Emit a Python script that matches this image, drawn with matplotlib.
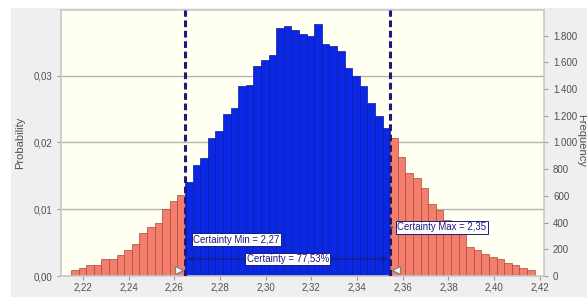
#!/usr/bin/env python3
"""
Forecast histogram with certainty range (Crystal Ball style).
Probability on the left axis, frequency (50.000 trials) on the right.
"""

import matplotlib
matplotlib.use("Agg")
import matplotlib.pyplot as plt
import matplotlib.transforms as mtransforms
from matplotlib.patches import Rectangle
from matplotlib.ticker import FuncFormatter, MultipleLocator

# =============================================================================
# DATA
# =============================================================================

BIN_START = 2.2148
BIN_WIDTH = 0.003326
TRIALS = 50000

# probability per bin, left tail (below certainty min)
LEFT_TAIL = [0.0009, 0.00125, 0.0016, 0.0017, 0.0026, 0.0025, 0.0031, 0.0039,
             0.0048, 0.0064, 0.0073, 0.0080, 0.0100, 0.0112, 0.0122]
# probability per bin inside the certainty range
CERTAIN = [0.0141, 0.0166, 0.0176, 0.0207, 0.0217, 0.0242, 0.0252, 0.0284,
           0.0286, 0.0314, 0.0323, 0.0331, 0.0372, 0.0374, 0.0368, 0.0363,
           0.0359, 0.0377, 0.0348, 0.0344, 0.0337, 0.0311, 0.0300, 0.0284,
           0.0259, 0.0240, 0.0221]
# probability per bin, right tail (above certainty max)
RIGHT_TAIL = [0.0206, 0.0178, 0.0154, 0.0147, 0.0132, 0.0108, 0.0099, 0.0084,
              0.0069, 0.0064, 0.0043, 0.0039, 0.0033, 0.0028, 0.0025, 0.0019,
              0.00165, 0.00115, 0.0009]

CERT_MIN_LABEL = "Certainty Min = 2,27"
CERT_MAX_LABEL = "Certainty Max = 2,35"
CERT_LABEL = "Certainty = 77,53%"

X_TICKS = [2.22, 2.24, 2.26, 2.28, 2.30, 2.32, 2.34, 2.36, 2.38, 2.40, 2.42]

# =============================================================================
# STYLE
# =============================================================================

RED = "#F47E6C"
RED_EDGE = "#A9483C"
BLUE = "#0A28E4"
BLUE_EDGE = "#0A1A9C"
NAVY = "#1B1B7E"
PLOT_BG = "#FFFFF2"
PANEL_BG = "#EFEFEF"
GRID = "#B4B4AA"
TEXT = "#505050"

plt.rcParams["font.family"] = ["Liberation Sans", "DejaVu Sans"]
plt.rcParams["font.size"] = 7


def main():
    n_left = len(LEFT_TAIL)
    n_cert = len(CERTAIN)
    n_right = len(RIGHT_TAIL)
    edges = [BIN_START + i * BIN_WIDTH for i in range(n_left + n_cert + n_right + 1)]
    cert_min = edges[n_left]
    cert_max = edges[n_left + n_cert]

    fig = plt.figure(figsize=(5.87, 2.97), dpi=100, facecolor="white")
    # grey panel behind the chart
    fig.patches.append(Rectangle((11 / 587, 0), 1, 1 - 8 / 297,
                                 transform=fig.transFigure, facecolor=PANEL_BG,
                                 edgecolor="none", zorder=-10))

    ax = fig.add_axes([61 / 587, 1 - 276 / 297, (544 - 61) / 587, (276 - 10) / 297])
    ax.set_facecolor(PLOT_BG)

    ax.bar(edges[:n_left], LEFT_TAIL, width=BIN_WIDTH, align="edge",
           color=RED, edgecolor=RED_EDGE, linewidth=0.5, zorder=2)
    ax.bar(edges[n_left:n_left + n_cert], CERTAIN, width=BIN_WIDTH, align="edge",
           color=BLUE, edgecolor=BLUE_EDGE, linewidth=0.5, zorder=2)
    ax.bar(edges[n_left + n_cert:-1], RIGHT_TAIL, width=BIN_WIDTH, align="edge",
           color=RED, edgecolor=RED_EDGE, linewidth=0.5, zorder=2)

    ax.set_xlim(2.2104, 2.4218)
    ymax = 0.03982
    ax.set_ylim(0, ymax)

    ax.yaxis.set_major_locator(MultipleLocator(0.01))
    ax.yaxis.set_major_formatter(FuncFormatter(lambda v, p: f"{v:.2f}".replace(".", ",")))
    ax.set_xticks(X_TICKS)
    ax.set_xticklabels([f"{v:.2f}".replace(".", ",") for v in X_TICKS])
    ax.grid(axis="y", color=GRID, linewidth=1.0, zorder=1)
    ax.tick_params(axis="both", colors="#999999", labelcolor=TEXT, length=3,
                   width=0.8, labelsize=7)
    ax.tick_params(axis="x", pad=2)
    for sp in ax.spines.values():
        sp.set_color("#C8C8C8")
        sp.set_linewidth(1.2)
    ax.set_ylabel("Probability", color=TEXT, fontsize=8, labelpad=6)

    # frequency axis
    ax2 = ax.twinx()
    ax2.set_ylim(0, ymax * TRIALS)
    ax2.yaxis.set_major_locator(MultipleLocator(200))
    ax2.yaxis.set_major_formatter(FuncFormatter(lambda v, p: f"{int(v):,}".replace(",", ".")))
    ax2.tick_params(axis="y", colors="#999999", labelcolor=TEXT, length=3,
                    width=0.8, labelsize=7)
    for sp in ax2.spines.values():
        sp.set_visible(False)
    fig.text(576 / 587, 1 - 140 / 297, "Frequency", rotation=270, ha="left",
             va="center", color=TEXT, fontsize=8)

    # certainty lines
    for x in (cert_min, cert_max):
        ax.axvline(x, color=NAVY, linewidth=2.2, linestyle=(0, (2.2, 1.2)), zorder=4)

    # grab handles at the bottom of the lines
    left_off = mtransforms.offset_copy(ax.transData, fig=fig, x=-4.5, y=4, units="points")
    right_off = mtransforms.offset_copy(ax.transData, fig=fig, x=4.5, y=4, units="points")
    ax.plot([cert_min], [0], marker=">", markersize=6, color="#F2F2F2",
            markeredgecolor="#808080", markeredgewidth=0.8, transform=left_off,
            clip_on=False, zorder=6)
    ax.plot([cert_max], [0], marker="<", markersize=6, color="#F2F2F2",
            markeredgecolor="#808080", markeredgewidth=0.8, transform=right_off,
            clip_on=False, zorder=6)

    box = dict(boxstyle="square,pad=0.15", facecolor="white", edgecolor=NAVY, linewidth=0.7)

    # certainty min / max labels
    ax.annotate(CERT_MIN_LABEL, xy=(cert_min, 0.0054), xytext=(6, 0),
                textcoords="offset points", ha="left", va="center", fontsize=6.9,
                color=NAVY, bbox=box, zorder=7,
                arrowprops=dict(arrowstyle="-", color=NAVY, linewidth=0.8))
    ax.annotate(CERT_MAX_LABEL, xy=(cert_max, 0.0073), xytext=(5, 0),
                textcoords="offset points", ha="left", va="center", fontsize=6.9,
                color=NAVY, bbox=box, zorder=7,
                arrowprops=dict(arrowstyle="-", color=NAVY, linewidth=0.8))

    # certainty range arrow
    y_arrow = 0.00254
    ax.annotate("", xy=(cert_min, y_arrow), xytext=(cert_max, y_arrow),
                arrowprops=dict(arrowstyle="<|-|>", color=NAVY, linewidth=1.0,
                                mutation_scale=6, shrinkA=2, shrinkB=2), zorder=6)
    ax.text((cert_min + cert_max) / 2, y_arrow, CERT_LABEL, ha="center",
            va="center", fontsize=6.9, color=NAVY, bbox=box, zorder=7)

    fig.savefig("out.png", dpi=100, facecolor=fig.get_facecolor())


if __name__ == "__main__":
    main()
